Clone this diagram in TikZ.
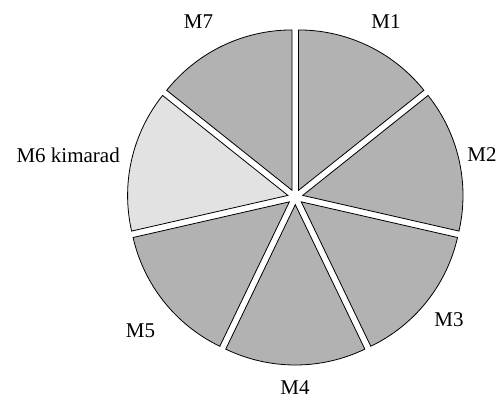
\documentclass[tikz,border=0pt]{standalone}
\usepackage{fontspec}
\setmainfont{Liberation Serif}
\usetikzlibrary{calc}
\definecolor{slicegray}{RGB}{178,178,178}
\definecolor{lightslice}{RGB}{226,226,226}
\tikzset{
  slice/.style={fill=slicegray, draw=black, line width=0.8pt, line join=miter},
  lslice/.style={fill=lightslice, draw=black, line width=0.8pt, line join=miter},
  lbl/.style={font=\fontsize{21}{24}\selectfont, inner sep=0pt}
}
\newcommand{\pieslice}[3]{% style, start, end
  \pgfmathsetmacro{\midang}{(#2+#3)/2}
  \draw[#1] ($(C)+(\midang:7.6)$) -- ++(#2:160.3) arc[start angle=#2, end angle=#3, radius=160.3] -- cycle;
}
\begin{document}
\begin{tikzpicture}[x=1pt,y=1pt]
\useasboundingbox (0,0) rectangle (496,400);
\coordinate (C) at (295.3,202.9);
\pieslice{slice}{38.5714}{90}
\pieslice{slice}{-12.8571}{38.5714}
\pieslice{slice}{-64.2857}{-12.8571}
\pieslice{slice}{-115.7143}{-64.2857}
\pieslice{slice}{-167.1429}{-115.7143}
\pieslice{lslice}{141.4286}{192.8571}
\pieslice{slice}{90}{141.4286}
\node[lbl] (m1) at (386,378) {M1};
\node[lbl] (m7) at (198.5,378) {M7};
\node[lbl] (m2) at (482,245) {M2};
\node[lbl] (m3) at (449,80) {M3};
\node[lbl] (m4) at (295,12) {M4};
\node[lbl] (m5) at (140.5,69) {M5};
\node[lbl, anchor=east] (m6) at (120,245) {M6 kimarad};
\end{tikzpicture}
\end{document}
